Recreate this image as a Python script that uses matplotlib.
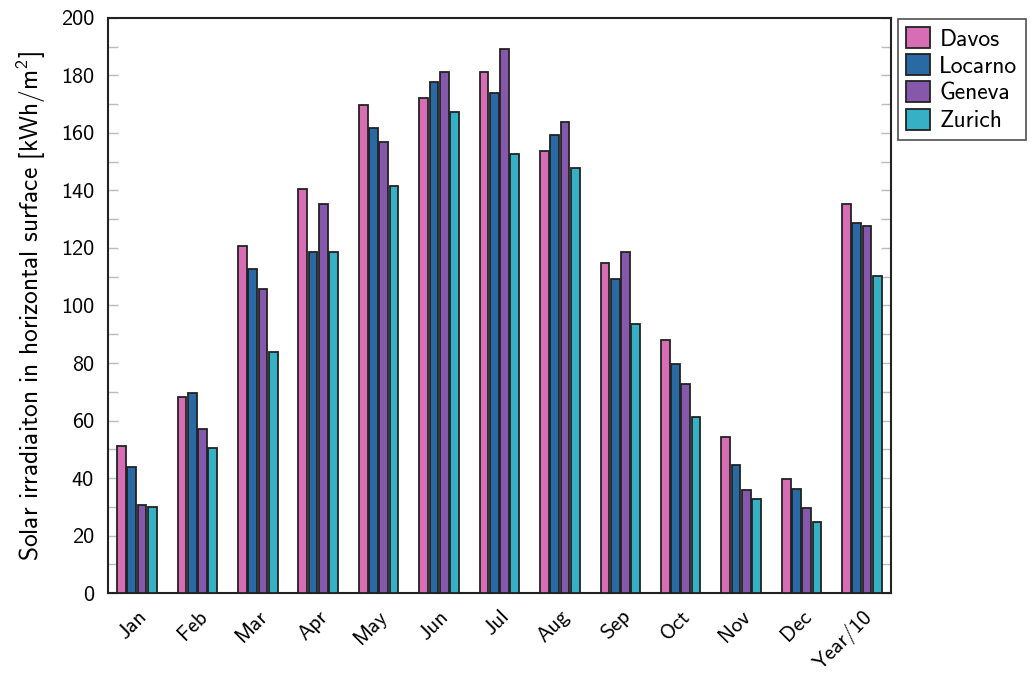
import numpy as np
import matplotlib
matplotlib.use("Agg")
import matplotlib.pyplot as plt

plt.rcParams["font.family"] = ["cmss10", "DejaVu Sans"]
plt.rcParams["mathtext.fontset"] = "custom"
plt.rcParams["mathtext.rm"] = "cmss10"
plt.rcParams["mathtext.it"] = "cmss10"
plt.rcParams["axes.unicode_minus"] = False

months = ["Jan", "Feb", "Mar", "Apr", "May", "Jun", "Jul", "Aug", "Sep",
          "Oct", "Nov", "Dec", "Year/10"]
davos = [51.2, 68.1, 120.7, 140.5, 169.7, 172.2, 181.3, 153.8, 114.8, 87.9, 54.2, 39.5, 135.3]
locarno = [43.9, 69.7, 112.7, 118.6, 161.7, 177.7, 173.8, 159.4, 109.3, 79.8, 44.6, 36.3, 128.7]
geneva = [30.7, 57.2, 105.7, 135.3, 156.9, 181.2, 189.2, 163.9, 118.5, 72.8, 35.7, 29.6, 127.5]
zurich = [30.0, 50.3, 83.8, 118.6, 141.6, 167.4, 152.8, 147.9, 93.6, 61.2, 32.6, 24.7, 110.4]

series = [("Davos", davos, "#d66db5"),
          ("Locarno", locarno, "#2a6aa4"),
          ("Geneva", geneva, "#8658ab"),
          ("Zurich", zurich, "#36b0c4")]

fig = plt.figure(figsize=(10.36, 6.81), dpi=100)
ax = fig.add_axes([0.1042, 0.1292, 0.7558, 0.8444])

x = np.arange(len(months))
stride = 0.17
width = 0.145
for i, (name, vals, col) in enumerate(series):
    ax.bar(x + (i - 1.5) * stride, vals, width, color=col, edgecolor="#222222",
           linewidth=1.3, label=name, zorder=3)

ax.set_xlim(-0.48, 12.48)
ax.set_ylim(0, 200)
ax.set_yticks(np.arange(0, 201, 20))
ax.set_yticks(np.arange(0, 201, 10), minor=True)
ax.set_xticks(x)
ax.set_xticklabels(months, rotation=45, ha="right", rotation_mode="anchor", fontsize=15.5)
ax.tick_params(axis="y", labelsize=16, pad=10)
ax.tick_params(which="both", direction="in", color="#bbbbbb", right=True, length=7, width=1)
ax.tick_params(axis="x", length=0, pad=10)
ax.set_ylabel(r"Solar irradiaiton in horizontal surface [kWh/m$^2$]", fontsize=18.3,
              labelpad=9)

for s in ax.spines.values():
    s.set_linewidth(1.5)
    s.set_color("#222222")

leg = ax.legend(loc="upper left", bbox_to_anchor=(1.003, 1.007), fontsize=17,
                frameon=True, fancybox=False, edgecolor="#222222",
                handlelength=1.0, handleheight=1.0, handletextpad=0.4,
                labelspacing=0.15, borderpad=0.35, borderaxespad=0.2)
leg.get_frame().set_linewidth(1.2)

fig.savefig("out.png", dpi=100)
